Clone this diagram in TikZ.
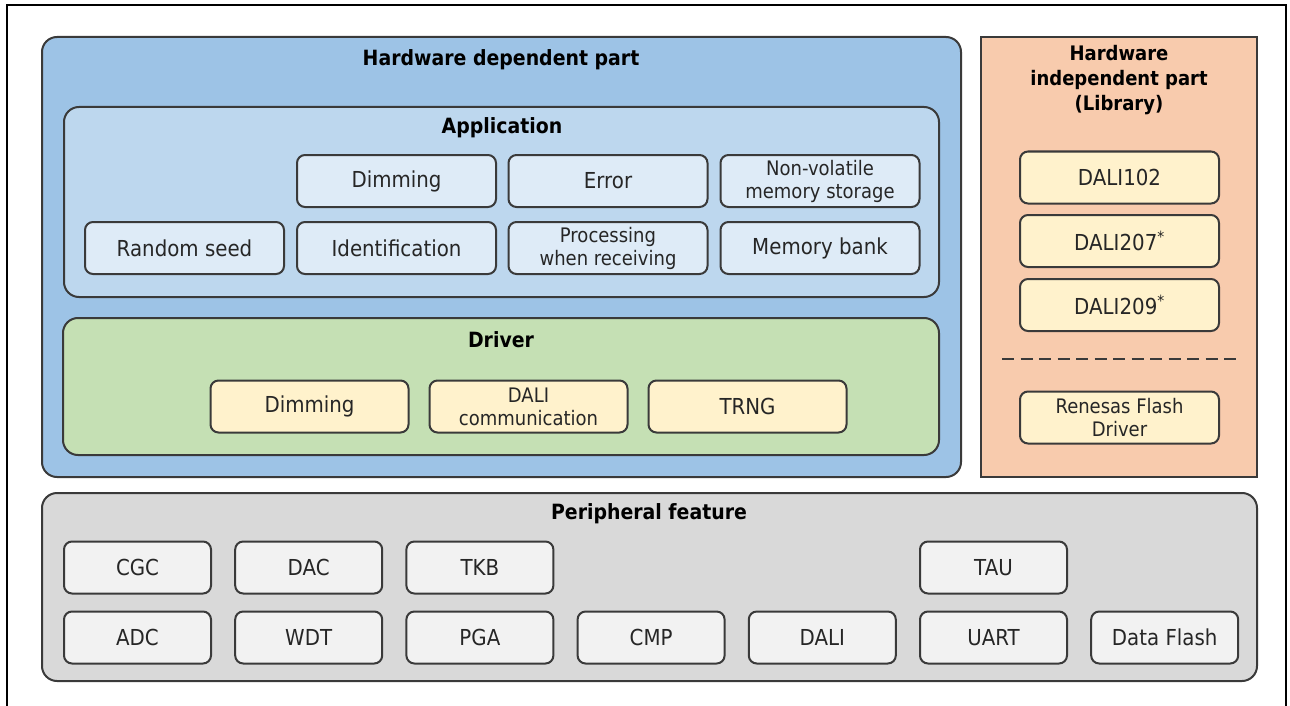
\documentclass[tikz,border=0pt]{standalone}
\usepackage{fontspec}
\setmainfont{DejaVu Sans}[FakeStretch=0.9]
\usepackage{xcolor}
\usetikzlibrary{positioning}

\definecolor{linegray}{RGB}{58,58,58}
\definecolor{hwblue}{RGB}{157,195,230}
\definecolor{appblue}{RGB}{189,215,238}
\definecolor{appitem}{RGB}{222,235,247}
\definecolor{drvgreen}{RGB}{197,224,180}
\definecolor{softyellow}{RGB}{255,242,204}
\definecolor{liborange}{RGB}{248,203,173}
\definecolor{perigray}{RGB}{217,217,217}
\definecolor{periitem}{RGB}{242,242,242}

\begin{document}
\begin{tikzpicture}[x=1pt,y=-1pt,
    panel/.style={draw=linegray, line width=2pt, rounded corners=15pt},
    item/.style={draw=linegray, line width=2pt, rounded corners=8pt,
        minimum width=199pt, minimum height=52pt, inner sep=0pt,
        align=center, text=black!85, font=\fontsize{22}{24}\selectfont},
    twoline/.style={font=\fontsize{20}{23}\selectfont},
    title/.style={align=center, font=\bfseries\fontsize{21}{25}\selectfont}]

    \useasboundingbox (0,0) rectangle (1290,706);
    % frame
    \draw[line width=2.5pt] (7,706) -- (7,5) -- (1286,5) -- (1286,706);

    % Hardware dependent part
    \draw[panel, fill=hwblue] (42,37) rectangle (961,477);
    \node (hwtitle) [title] at (501,60) {Hardware dependent part};

    % Application
    \draw[panel, fill=appblue] (64,107) rectangle (939,297);
    \node (apptitle) [title] at (502,128) {Application};
    \node (appdim) [item, fill=appitem] at (396.5,181) {Dimming};
    \node (apperr) [item, fill=appitem] at (608,181) {Error};
    \node (appnvm) [item, fill=appitem, twoline] at (820,181) {Non-volatile\\memory storage};
    \node (appseed) [item, fill=appitem] at (184.5,248) {Random seed};
    \node (appid) [item, fill=appitem] at (396.5,248) {Identification};
    \node (apprecv) [item, fill=appitem, twoline] at (608,248) {Processing\\when receiving};
    \node (appbank) [item, fill=appitem] at (820,248) {Memory bank};

    % Driver
    \draw[panel, fill=drvgreen] (63,318) rectangle (939,455);
    \node (drvtitle) [title] at (501,340) {Driver};
    \node (drvdim) [item, fill=softyellow, minimum width=198pt] at (309.5,406.5) {Dimming};
    \node (drvdali) [item, fill=softyellow, minimum width=198pt, twoline] at (528.5,406.5) {DALI\\communication};
    \node (drvtrng) [item, fill=softyellow, minimum width=198pt] at (747.5,406.5) {TRNG};

    % Hardware independent part
    \draw[draw=linegray, line width=2pt, fill=liborange] (981,37) rectangle (1257,477);
    \node (libtitle) [title, font=\bfseries\fontsize{20}{25}\selectfont] at (1119,80) {Hardware\\independent part\\(Library)};
    \node (lib102) [item, fill=softyellow] at (1119.5,177.5) {DALI102};
    \node (lib207) [item, fill=softyellow] at (1119.5,241) {DALI207\textsuperscript{*}};
    \node (lib209) [item, fill=softyellow] at (1119.5,305) {DALI209\textsuperscript{*}};
    \draw[draw=linegray, line width=2pt, dash pattern=on 12pt off 6.5pt] (1002,359) -- (1237,359);
    \node (libflash) [item, fill=softyellow, twoline] at (1119.5,417.5) {Renesas Flash\\Driver};

    % Peripheral feature
    \draw[panel, fill=perigray] (42,493) rectangle (1257,681);
    \node (perititle) [title] at (649,514) {Peripheral feature};
    \foreach \name/\col/\row in {CGC/0/0, DAC/1/0, TKB/2/0, TAU/5/0,
        ADC/0/1, WDT/1/1, PGA/2/1, CMP/3/1, DALI/4/1, UART/5/1, Data Flash/6/1}
        \node (peri\col\row) [item, fill=periitem, minimum width=147pt]
            at ({137.5+171.2*\col},{567.5+70*\row}) {\name};
\end{tikzpicture}
\end{document}
